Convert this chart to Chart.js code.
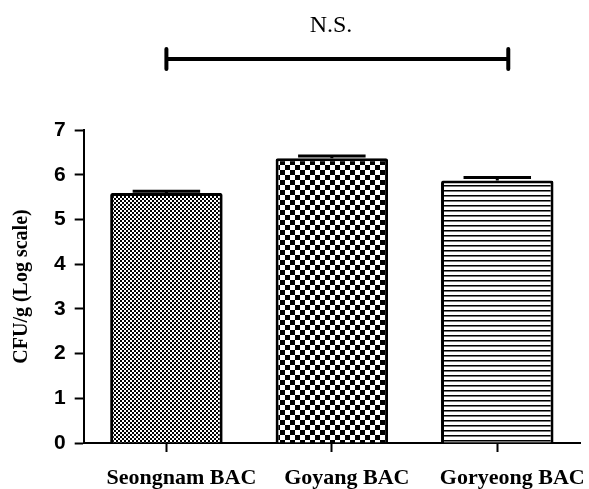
<!DOCTYPE html>
<html>
<head>
<meta charset="utf-8">
<script src="https://cdn.jsdelivr.net/npm/chart.js@4.4.1/dist/chart.umd.min.js"></script>
<style>
  body { margin: 0; background: #fff; }
  canvas { display: block; }
</style>
</head>
<body>
<canvas id="chart" width="589" height="489"></canvas>
<script>
// data
const categories = ['Seongnam BAC', 'Goyang BAC', 'Goryeong BAC'];
const values = [5.59, 6.37, 5.87];
const errors = [0.04, 0.05, 0.07];
const yTicks = [0, 1, 2, 3, 4, 5, 6, 7];
const sigLabel = 'N.S.';

// fill patterns for the bars
function makePattern(kind) {
  const c = document.createElement('canvas');
  const g = c.getContext('2d');
  if (kind === 'fine') {
    c.width = 4; c.height = 4;
    g.fillStyle = '#fff'; g.fillRect(0, 0, 4, 4);
    g.fillStyle = '#000';
    g.fillRect(0, 0, 2, 2); g.fillRect(2, 2, 2, 2);
  } else if (kind === 'check') {
    c.width = 10; c.height = 10;
    g.fillStyle = '#fff'; g.fillRect(0, 0, 10, 10);
    g.fillStyle = '#000';
    g.fillRect(0, 0, 5, 5); g.fillRect(5, 5, 5, 5);
  } else {
    c.width = 5; c.height = 5;
    g.fillStyle = '#fff'; g.fillRect(0, 0, 5, 5);
    g.fillStyle = '#000';
    g.fillRect(0, 0, 5, 1);
    g.fillStyle = '#777';
    g.fillRect(0, 1, 5, 1);
  }
  return g.createPattern(c, 'repeat');
}

const ctx = document.getElementById('chart').getContext('2d');
const fills = [makePattern('fine'), makePattern('check'), makePattern('lines')];

// error bar caps + N.S. bracket
const extras = {
  id: 'extras',
  afterDatasetsDraw(chart) {
    const { ctx, scales } = chart;
    const meta = chart.getDatasetMeta(0);
    ctx.save();
    ctx.strokeStyle = '#000';
    ctx.lineWidth = 3;
    meta.data.forEach((bar, i) => {
      const yTop = scales.y.getPixelForValue(values[i] + errors[i]);
      const yMid = scales.y.getPixelForValue(values[i]);
      const half = bar.width * 0.3;
      ctx.beginPath();
      ctx.moveTo(bar.x, yMid);
      ctx.lineTo(bar.x, yTop);
      ctx.moveTo(bar.x - half, yTop);
      ctx.lineTo(bar.x + half, yTop);
      ctx.stroke();
    });
    const x0 = scales.x.getPixelForValue(0);
    const x1 = scales.x.getPixelForValue(2) + 11;
    const yb = 59;
    ctx.lineWidth = 4;
    ctx.lineCap = 'round';
    ctx.beginPath();
    ctx.moveTo(x0, yb); ctx.lineTo(x1, yb);
    ctx.moveTo(x0, yb - 10); ctx.lineTo(x0, yb + 10);
    ctx.moveTo(x1, yb - 10); ctx.lineTo(x1, yb + 10);
    ctx.stroke();
    ctx.fillStyle = '#000';
    ctx.font = '24px "Liberation Serif", "Times New Roman", serif';
    ctx.textAlign = 'center';
    ctx.textBaseline = 'alphabetic';
    ctx.fillText(sigLabel, 331, 32);
    ctx.restore();
  }
};

new Chart(ctx, {
  type: 'bar',
  data: {
    labels: categories,
    datasets: [
      {
        data: values,
        backgroundColor: fills,
        borderColor: '#000',
        borderWidth: 3,
        borderSkipped: 'bottom',
        borderRadius: 2,
        barPercentage: 0.68,
        categoryPercentage: 1,
      },
    ],
  },
  options: {
    responsive: false,
    animation: false,
    layout: {
      padding: { top: 130, left: 10, right: 9, bottom: -15 },
    },
    plugins: {
      legend: { display: false },
      tooltip: { enabled: false },
    },
    scales: {
      x: {
        offset: true,
        grid: {
          display: true,
          drawOnChartArea: false,
          tickLength: 9,
          tickColor: '#000',
          tickWidth: 2,
          offset: false,
        },
        border: { color: '#000', width: 2 },
        ticks: {
          color: '#000',
          padding: 15,
          labelOffset: 15,
          font: { family: '"Liberation Serif", "Times New Roman", serif', size: 22, weight: 'bold', lineHeight: 1 },
        },
      },
      y: {
        min: 0,
        max: 7,
        afterBuildTicks: (axis) => {
          axis.ticks = yTicks.map((v) => ({ value: v }));
        },
        grid: {
          display: true,
          drawOnChartArea: false,
          tickLength: 9,
          tickColor: '#000',
          tickWidth: 2,
        },
        border: { color: '#000', width: 2 },
        ticks: {
          color: '#000',
          padding: 9,
          font: { family: '"Liberation Sans", Arial, sans-serif', size: 21, weight: 'bold' },
        },
        title: {
          display: true,
          text: 'CFU/g (Log scale)',
          color: '#000',
          padding: { top: 0, bottom: 11 },
          font: { family: '"Liberation Serif", "Times New Roman", serif', size: 20, weight: 'bold' },
        },
      },
    },
  },
  plugins: [extras],
});
</script>
</body>
</html>
